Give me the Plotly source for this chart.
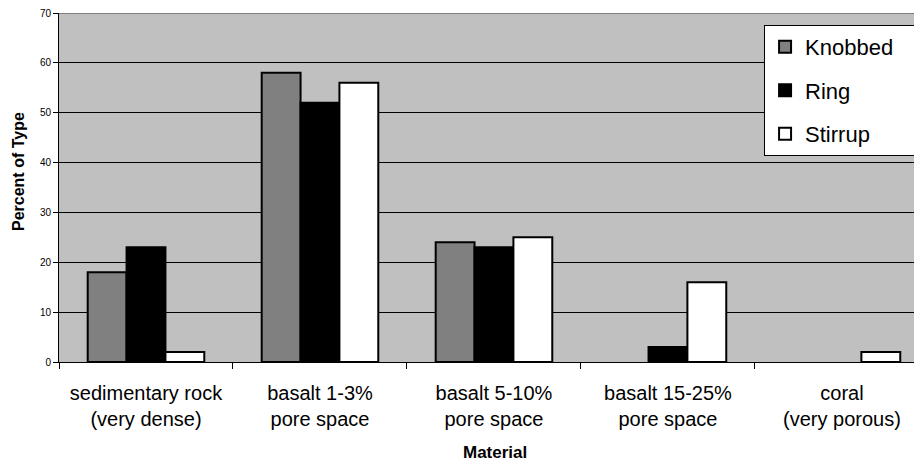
import plotly.graph_objects as go

categories = ["sedimentary rock<br>(very dense)", "basalt 1-3%<br>pore space",
              "basalt 5-10%<br>pore space", "basalt 15-25%<br>pore space",
              "coral<br>(very porous)"]
knobbed = [18, 58, 24, 0, 0]
ring = [23, 52, 23, 3, 0]
stirrup = [2, 56, 25, 16, 2]
series_names = ["Knobbed", "Ring", "Stirrup"]

fig = go.Figure()
for name, vals, col in [(series_names[0], knobbed, "#808080"),
                        (series_names[1], ring, "#000000"),
                        (series_names[2], stirrup, "#ffffff")]:
    fig.add_trace(go.Bar(x=categories, y=vals, name=name + "\u00a0" * 3, legendgroup=name,
                         marker=dict(color=col,
                                     line=dict(color="black",
                                               width=[2 if v > 0 else 0 for v in vals]))))

# page body has an 8px margin, so the figure is sized/positioned accordingly
fig.update_layout(
    width=914, height=459,
    margin=dict(l=51, r=0, t=5, b=105),
    paper_bgcolor="white", plot_bgcolor="#c0c0c0",
    barmode="group", bargap=0.33, bargroupgap=0,
    font=dict(family="Liberation Sans, Arial", color="black"),
    showlegend=True,
    legend=dict(x=0.817, y=0.966, xanchor="left", yanchor="top",
                bgcolor="white", bordercolor="black", borderwidth=1,
                font=dict(size=22), traceorder="grouped", tracegroupgap=12,
                itemwidth=30),
    xaxis=dict(type="category", range=[-0.5, 4.46], tickson="boundaries",
               ticks="outside", ticklen=6, tickcolor="black",
               showline=True, linecolor="black", linewidth=1,
               tickfont=dict(size=20), showgrid=False, automargin=False,
               ticklabelstandoff=13),
    yaxis=dict(range=[0, 70], dtick=10, ticks="outside", ticklen=5,
               tickcolor="black", showline=True, linecolor="black", linewidth=1,
               gridcolor="black", gridwidth=1, tickfont=dict(size=10),
               zeroline=False, automargin=False, ticklabeloverflow="allow"),
    annotations=[
        dict(text="<b>Material</b>", xref="paper", yref="paper", x=(495 - 59) / 863,
             y=-(452 - 362) / 349, showarrow=False, font=dict(size=17),
             xanchor="center", yanchor="middle"),
        dict(text="<b>Percent of Type</b>", xref="paper", yref="paper",
             x=-(59 - 18) / 863, y=(362 - 172) / 349, showarrow=False,
             font=dict(size=16), textangle=-90, xanchor="center", yanchor="middle"),
    ],
)
fig.add_shape(type="line", xref="paper", yref="y", x0=0, x1=1, y0=70, y1=70,
              line=dict(color="#808080", width=2))
fig.write_html("out.html")
